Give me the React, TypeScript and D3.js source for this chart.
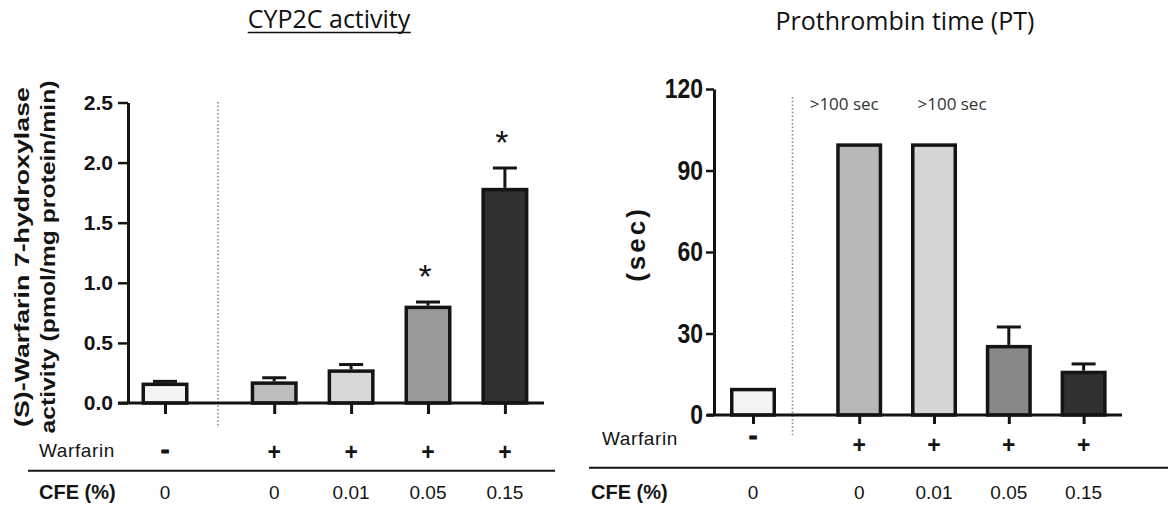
import React, { useEffect, useRef } from "react";
import * as d3 from "d3";

// ---------- data ----------
const warfarinSigns = ["-", "+", "+", "+", "+"];
const cfeLabels = ["0", "0", "0.01", "0.05", "0.15"];

const cypTitle = "CYP2C activity";
const cypYLabel = ["(S)-Warfarin 7-hydroxylase", "activity (pmol/mg protein/min)"];
const cypMeans = [0.17, 0.18, 0.28, 0.81, 1.79];
const cypErrors = [0.01, 0.03, 0.04, 0.03, 0.165];
const cypStars = ["", "", "", "*", "*"];
const cypTicks = [0, 0.5, 1.0, 1.5, 2.0, 2.5];

const ptTitle = "Prothrombin time (PT)";
const ptYLabel = ["(sec)"];
const ptMeans = [10, 100, 100, 25.8, 16.3];
const ptErrors = [0, 0, 0, 6.6, 2.5];
const ptNotes = ["", ">100 sec", ">100 sec", "", ""];
const ptTicks = [0, 30, 60, 90, 120];

// ---------- style ----------
const INK = "#141414";
const ARIAL = "'Liberation Sans', Arial, Helvetica, sans-serif";
const CAL = "'Open Sans', 'Noto Sans', sans-serif";
const GAP = 0.42;

type Panel = {
  title: string;
  titleX: number;
  titleY: number;
  underline: boolean;
  means: number[];
  errors: number[];
  stars: string[];
  notes: string[];
  noteOffsets: number[];
  ticks: number[];
  yMax: number;
  fmt: (v: number) => string;
  y0: number;
  yTop: number;
  axisX: number;
  tickLen: number;
  tickPad: number;
  tickFont: number;
  tickScaleX: number;
  c0: number;
  step: number;
  barW: number;
  xStart: number;
  xEnd: number;
  fills: string[];
  divX: number;
  divTop: number;
  divBottom: number;
  yLabel: string[];
  yLabelX: number[];
  yLabelY: number;
  yLabelLen: (number | null)[];
  yLabelSize: number;
  yLabelSpacing: number;
  warfX: number;
  warfY: number;
  minusY: number;
  plusY: number;
  sepY: number;
  sepX0: number;
  sepX1: number;
  cfeX: number;
  cfeY: number;
  valY: number;
};

const panels: Panel[] = [
  {
    title: cypTitle, titleX: 329, titleY: 28, underline: true,
    means: cypMeans, errors: cypErrors, stars: cypStars,
    notes: ["", "", "", "", ""], noteOffsets: [0, 0, 0, 0, 0],
    ticks: cypTicks, yMax: 2.5, fmt: d3.format(".1f"),
    y0: 403, yTop: 102.5, axisX: 128, tickLen: 10, tickPad: 5, tickFont: 21, tickScaleX: 1,
    c0: 165, step: 76.9, barW: 47, xStart: 118, xEnd: 544,
    fills: ["#f3f3f3", "#bdbdbd", "#d8d8d8", "#9a9a9a", "#303030"],
    divX: 218, divTop: 102, divBottom: 428,
    yLabel: cypYLabel, yLabelX: [29, 55], yLabelY: 257, yLabelLen: [340, 353], yLabelSize: 21, yLabelSpacing: 0,
    warfX: 39, warfY: 457, minusY: 458, plusY: 460,
    sepY: 470.7, sepX0: 28, sepX1: 555,
    cfeX: 39, cfeY: 499, valY: 499,
  },
  {
    title: ptTitle, titleX: 905, titleY: 30, underline: false,
    means: ptMeans, errors: ptErrors, stars: ["", "", "", "", ""],
    notes: ptNotes, noteOffsets: [0, -15, 18, 0, 0],
    ticks: ptTicks, yMax: 120, fmt: d3.format("d"),
    y0: 415, yTop: 89, axisX: 714, tickLen: 8, tickPad: 3, tickFont: 28, tickScaleX: 0.82,
    c0: 753, step: 74.8, barW: 46, xStart: 707, xEnd: 1122,
    fills: ["#f3f3f3", "#b8b8b8", "#d6d6d6", "#888888", "#303030"],
    divX: 792.5, divTop: 97, divBottom: 437,
    yLabel: ptYLabel, yLabelX: [645], yLabelY: 244, yLabelLen: [null], yLabelSize: 26, yLabelSpacing: 3,
    warfX: 602, warfY: 445, minusY: 444, plusY: 453,
    sepY: 467.7, sepX0: 589, sepX1: 1168,
    cfeX: 591, cfeY: 499, valY: 499,
  },
];

function drawPanel(svg: d3.Selection<SVGSVGElement, unknown, null, undefined>, p: Panel) {
  const g = svg.append("g");
  const y = d3.scaleLinear().domain([0, p.yMax]).range([p.y0, p.yTop]);
  const slots = p.means.map((_, i) => (i === 0 ? 0 : i + GAP));
  const x = d3.scaleLinear().domain([0, 4 + GAP]).range([p.c0, p.c0 + (4 + GAP) * p.step]);

  // title
  const t = g.append("text")
    .attr("x", p.titleX).attr("y", p.titleY)
    .attr("text-anchor", "middle")
    .attr("font-family", CAL).attr("font-size", 25).attr("fill", "#111")
    .text(p.title);
  if (p.underline) {
    const bb = (t.node() as SVGTextElement).getBBox();
    g.append("line")
      .attr("x1", bb.x).attr("x2", bb.x + bb.width)
      .attr("y1", p.titleY + 4.5).attr("y2", p.titleY + 4.5)
      .attr("stroke", "#111").attr("stroke-width", 1.5);
  }

  // y label
  p.yLabel.forEach((s, i) => {
    const tx = g.append("text")
      .attr("transform", `translate(${p.yLabelX[i]},${p.yLabelY}) rotate(-90)`)
      .attr("text-anchor", "middle")
      .attr("font-family", ARIAL).attr("font-weight", "bold")
      .attr("font-size", p.yLabelSize).attr("fill", INK)
      .attr("letter-spacing", p.yLabelSpacing)
      .text(s);
    const L = p.yLabelLen[i];
    if (L) tx.attr("textLength", L).attr("lengthAdjust", "spacingAndGlyphs");
  });

  // divider
  g.append("line")
    .attr("x1", p.divX).attr("x2", p.divX)
    .attr("y1", p.divTop).attr("y2", p.divBottom)
    .attr("stroke", "#8a8a8a").attr("stroke-width", 1.6)
    .attr("stroke-dasharray", "1.5,2.2");

  // bars
  const sw = 3.5;
  g.append("g").selectAll("rect").data(p.means).join("rect")
    .attr("x", (_, i) => x(slots[i]) - p.barW / 2 + sw / 2)
    .attr("width", p.barW - sw)
    .attr("y", (d) => y(d) + sw / 2)
    .attr("height", (d) => p.y0 - y(d) - sw / 2)
    .attr("fill", (_, i) => p.fills[i])
    .attr("stroke", INK).attr("stroke-width", sw);

  // error bars
  const eg = g.append("g").attr("stroke", INK).attr("stroke-width", 3);
  p.means.forEach((m, i) => {
    const e = p.errors[i];
    if (!e) return;
    const cx = x(slots[i]);
    eg.append("line").attr("x1", cx).attr("x2", cx).attr("y1", y(m)).attr("y2", y(m + e));
    eg.append("line").attr("x1", cx - 12).attr("x2", cx + 12).attr("y1", y(m + e)).attr("y2", y(m + e));
  });

  // stars
  p.stars.forEach((s, i) => {
    if (!s) return;
    g.append("text")
      .attr("x", x(slots[i]) - 3)
      .attr("y", y(p.means[i] + p.errors[i]) - 33 + 19)
      .attr("text-anchor", "middle")
      .attr("font-family", ARIAL).attr("font-size", 34).attr("fill", INK)
      .text(s);
  });

  // notes
  p.notes.forEach((s, i) => {
    if (!s) return;
    g.append("text")
      .attr("x", x(slots[i]) + p.noteOffsets[i])
      .attr("y", 110)
      .attr("text-anchor", "middle")
      .attr("font-family", CAL).attr("font-size", 17).attr("fill", "#333")
      .text(s);
  });

  // x axis
  g.append("line")
    .attr("x1", p.xStart).attr("x2", p.xEnd)
    .attr("y1", p.y0).attr("y2", p.y0)
    .attr("stroke", INK).attr("stroke-width", 3);
  const xa = g.append("g").attr("transform", `translate(0,${p.y0})`)
    .call(d3.axisBottom(x).tickValues(slots).tickSize(p.tickLen + 1).tickSizeOuter(0).tickFormat(() => ""));
  xa.select(".domain").remove();
  xa.selectAll(".tick line").attr("stroke", INK).attr("stroke-width", 3);

  // y axis
  const ya = g.append("g").attr("transform", `translate(${p.axisX},0)`)
    .call(d3.axisLeft(y).tickValues(p.ticks).tickSize(p.tickLen).tickSizeOuter(0).tickPadding(p.tickPad).tickFormat((v) => p.fmt(v as number)));
  ya.select(".domain").attr("stroke", INK).attr("stroke-width", 3);
  ya.selectAll(".tick line").attr("stroke", INK).attr("stroke-width", 2.5);
  ya.selectAll<SVGTextElement, number>(".tick text")
    .attr("font-family", ARIAL).attr("font-weight", "bold")
    .attr("font-size", p.tickFont).attr("fill", INK)
    .attr("x", -(p.tickLen + p.tickPad) / p.tickScaleX)
    .attr("transform", `scale(${p.tickScaleX},1)`);

  // treatment rows
  g.append("text").attr("x", p.warfX).attr("y", p.warfY)
    .attr("font-family", ARIAL).attr("font-size", 19).attr("letter-spacing", 0.6).attr("fill", INK)
    .text("Warfarin");
  warfarinSigns.forEach((s, i) => {
    g.append("text")
      .attr("x", x(slots[i])).attr("y", s === "-" ? p.minusY : p.plusY)
      .attr("text-anchor", "middle")
      .attr("font-family", ARIAL).attr("font-weight", "bold")
      .attr("font-size", s === "-" ? 26 : 23).attr("fill", INK)
      .attr("stroke", s === "-" ? INK : "none").attr("stroke-width", s === "-" ? 1 : 0)
      .text(s);
  });
  g.append("line")
    .attr("x1", p.sepX0).attr("x2", p.sepX1)
    .attr("y1", p.sepY).attr("y2", p.sepY)
    .attr("stroke", INK).attr("stroke-width", 2);
  g.append("text").attr("x", p.cfeX).attr("y", p.cfeY)
    .attr("font-family", ARIAL).attr("font-weight", "bold").attr("font-size", 20).attr("fill", INK)
    .text("CFE (%)");
  cfeLabels.forEach((s, i) => {
    g.append("text")
      .attr("x", x(slots[i])).attr("y", p.valY)
      .attr("text-anchor", "middle")
      .attr("font-family", ARIAL).attr("font-size", 19).attr("fill", INK)
      .text(s);
  });
}

export default function App() {
  const ref = useRef<SVGSVGElement>(null);
  useEffect(() => {
    if (!ref.current) return;
    const svg = d3.select(ref.current);
    svg.selectAll("*").remove();
    panels.forEach((p) => drawPanel(svg, p));
  }, []);
  return (
    <div style={{ position: "absolute", left: 0, top: 0, width: 1168, height: 511, background: "#fff" }}>
      <svg ref={ref} width={1168} height={511} style={{ display: "block" }} />
    </div>
  );
}
